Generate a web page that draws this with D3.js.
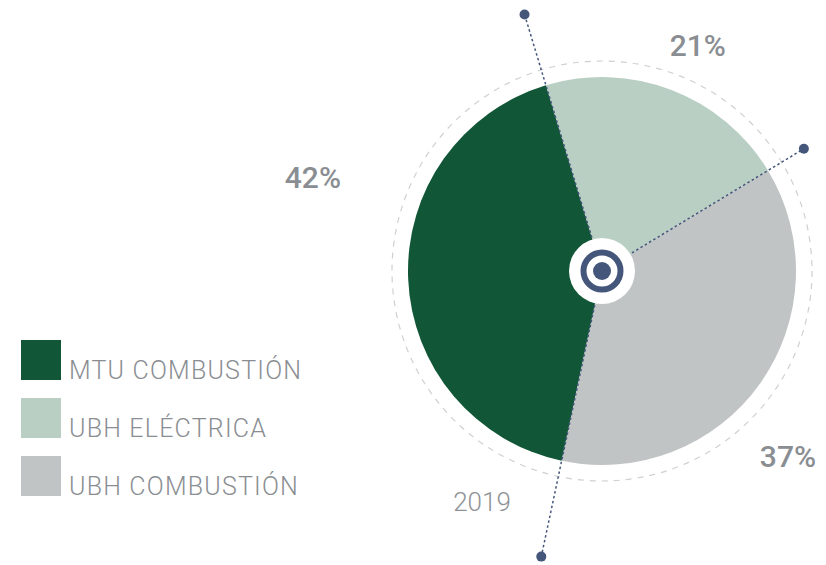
<!DOCTYPE html>
<html>
<head>
<meta charset="utf-8">
<script src="https://cdn.jsdelivr.net/npm/d3@7/dist/d3.min.js"></script>
<style>
  html, body { margin: 0; padding: 0; background: #ffffff; }
  svg { display: block; }
</style>
</head>
<body>
<script>
// ---- data ----
const categories = ["MTU COMBUSTIÓN", "UBH ELÉCTRICA", "UBH COMBUSTIÓN"];
const values = [42, 21, 37];
const yearLabel = "2019";

// ---- style / layout ----
const colors = ["#115737", "#b9cfc4", "#c1c4c5"];
const W = 826, H = 565;
const cx = 602, cy = 271;
const R = 194, dashR = 210;
const navy = "#44577a";
const textGray = "#8a8e92";
// leader length for the line that starts at each slice boundary (per slice index)
const leaderLen = [292, 268, 236];
// label placement (angle in degrees clockwise from 12 o'clock, radius)
const labelPlace = [[288, 304], [23, 245], [135, 263]];
const deg = Math.PI / 180;

const svg = d3.select("body").append("svg")
  .attr("width", W).attr("height", H);

const g = svg.append("g").attr("transform", `translate(${cx},${cy})`);

const start = -168 * deg;
const pie = d3.pie().sort(null).value(d => d).startAngle(start).endAngle(start + 2 * Math.PI);
const arcs = pie(values);
const arc = d3.arc().innerRadius(0).outerRadius(R);

// dashed outer ring
g.append("circle")
  .attr("r", dashR)
  .attr("fill", "none")
  .attr("stroke", "#cfd0d0")
  .attr("stroke-width", 1.2)
  .attr("stroke-dasharray", "6,6");

// slices
g.selectAll("path.slice").data(arcs).enter().append("path")
  .attr("class", "slice")
  .attr("d", arc)
  .attr("fill", (d, i) => colors[i]);

// leader lines along slice boundaries
const pt = (a, r) => [Math.sin(a) * r, -Math.cos(a) * r];
arcs.forEach((d, i) => {
  const [x, y] = pt(d.startAngle, leaderLen[i]);
  g.append("line")
    .attr("x1", 0).attr("y1", 0).attr("x2", x).attr("y2", y)
    .attr("stroke", navy).attr("stroke-width", 1.5)
    .attr("stroke-dasharray", "2.5,2.5");
  g.append("circle").attr("cx", x).attr("cy", y).attr("r", 5).attr("fill", navy);
});

// center target
g.append("circle").attr("r", 33).attr("fill", "#ffffff");
g.append("circle").attr("r", 18.5).attr("fill", "none").attr("stroke", navy).attr("stroke-width", 6);
g.append("circle").attr("r", 9).attr("fill", navy);

// percentage labels
arcs.forEach((d, i) => {
  const [a, r] = labelPlace[i];
  const [x, y] = pt(a * deg, r);
  g.append("text")
    .attr("x", x).attr("y", y)
    .attr("text-anchor", "middle")
    .attr("dominant-baseline", "central")
    .attr("font-family", "Roboto, 'Liberation Sans', sans-serif")
    .attr("font-weight", 500)
    .attr("font-size", 30)
    .attr("fill", textGray)
    .text(Math.round(d.value) + "%");
});

// year label
svg.append("text")
  .attr("x", 482).attr("y", 511)
  .attr("text-anchor", "middle")
  .attr("font-family", "Roboto, sans-serif")
  .attr("font-weight", 300)
  .attr("font-size", 26)
  .attr("fill", "#8f9396")
  .text(yearLabel);

// legend
const legend = svg.append("g").attr("transform", "translate(21,340)");
const items = legend.selectAll("g").data(categories).enter().append("g")
  .attr("transform", (d, i) => `translate(0,${i * 58})`);
items.append("rect")
  .attr("width", 40).attr("height", 40)
  .attr("fill", (d, i) => colors[i]);
items.append("text")
  .attr("x", 48).attr("y", 39)
  .attr("font-family", "Roboto, sans-serif")
  .attr("font-weight", 300)
  .attr("font-size", 25)
  .attr("letter-spacing", 1.2)
  .attr("fill", textGray)
  .text(d => d);
</script>
</body>
</html>
